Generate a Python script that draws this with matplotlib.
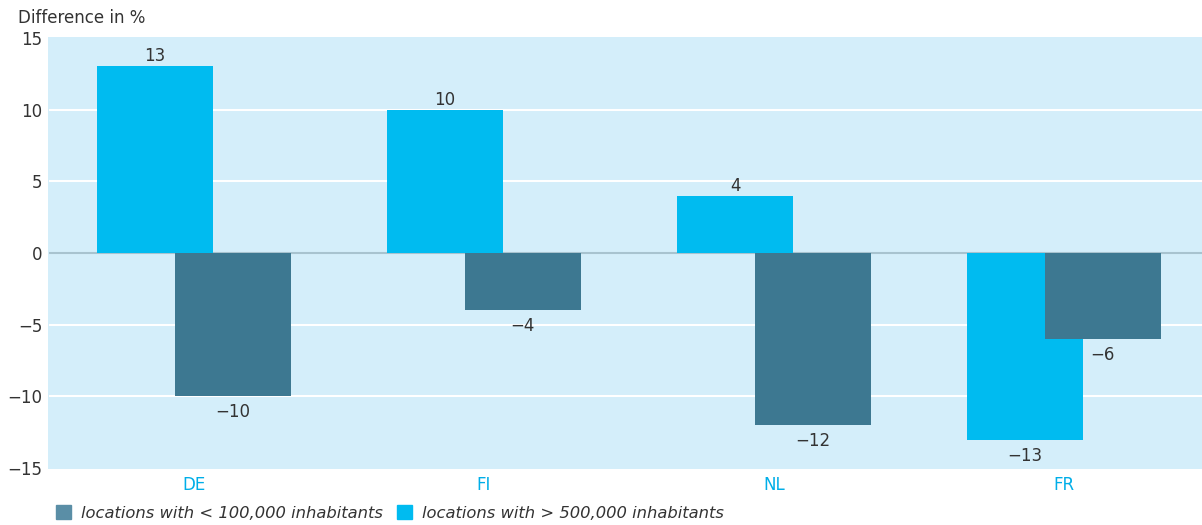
import numpy as np
import matplotlib.pyplot as plt
from matplotlib.patches import Patch

plt.rcParams['font.family'] = ['DejaVu Sans']

# --------------------------- data ---------------------------------------
countries = ["DE", "FI", "NL", "FR"]
large_vals = [13.1, 10.0, 4.0, -13.1]   # > 500,000 inhabitants
small_vals = [-10.0, -4.0, -12.0, -6.0]  # < 100,000 inhabitants
large_labels = ["13", "10", "4", "\u221213"]
small_labels = ["\u221210", "\u22124", "\u221212", "\u22126"]
yticks = [-15, -10, -5, 0, 5, 10, 15]

LIGHT = "#00bbf0"
DARK = "#3d7891"
DARK_LEG = "#5a8ea6"
BG = "#d4eefa"
TXT = "#333333"
FS = 12

fig = plt.figure(figsize=(12.02, 5.25), dpi=100)
ax = fig.add_axes([48 / 1202, 56 / 525, 1 - 48 / 1202, 432 / 525])
ax.set_facecolor(BG)

x = np.arange(len(countries))
w = 0.4
off = 0.134

ax.bar(x - off, large_vals, width=w, color=LIGHT, zorder=3)
ax.bar(x + off, small_vals, width=w, color=DARK, zorder=4)

for xi, v, lab in zip(x - off, large_vals, large_labels):
    if v >= 0:
        ax.text(xi, v + 0.05, lab, ha="center", va="bottom", fontsize=FS, color=TXT)
    else:
        ax.text(xi, v - 0.45, lab, ha="center", va="top", fontsize=FS, color=TXT)
for xi, v, lab in zip(x + off, small_vals, small_labels):
    ax.text(xi, v - 0.5, lab, ha="center", va="top", fontsize=FS, color=TXT)

ax.set_xlim(-0.503, 3.476)
ax.set_ylim(-15.1, 15.1)
ax.set_yticks(yticks)
ax.set_yticklabels([str(t).replace("-", "\u2212") for t in yticks])
ax.set_xticks(x)
ax.set_xticklabels(countries)
ax.tick_params(axis="both", length=0, labelsize=FS)
ax.tick_params(axis="y", colors=TXT, pad=4)
ax.tick_params(axis="x", colors="#00aee8", pad=5)

for t in [-10, -5, 5, 10]:
    ax.axhline(t, color="white", linewidth=1.5, zorder=1, xmin=0.002)
ax.axhline(0, color="#a8c3cf", linewidth=1.5, zorder=2, xmin=0.002)

for s in ax.spines.values():
    s.set_visible(False)

fig.text(18 / 1202, 1 - 18 / 525, "Difference in %", fontsize=FS, color=TXT, va="center")

handles = [Patch(color=DARK_LEG, label="locations with < 100,000 inhabitants"),
           Patch(color=LIGHT, label="locations with > 500,000 inhabitants")]
fig.legend(handles=handles, loc="center left", bbox_to_anchor=(56 / 1202, 1 - 513 / 525),
           ncol=2, frameon=False, handlelength=0.9, handleheight=0.9, handletextpad=0.6,
           columnspacing=0.9, borderaxespad=0, borderpad=0,
           prop={"style": "italic", "size": 11.8})
for t in fig.legends[0].get_texts():
    t.set_color(TXT)

fig.savefig("out.png", dpi=100)
